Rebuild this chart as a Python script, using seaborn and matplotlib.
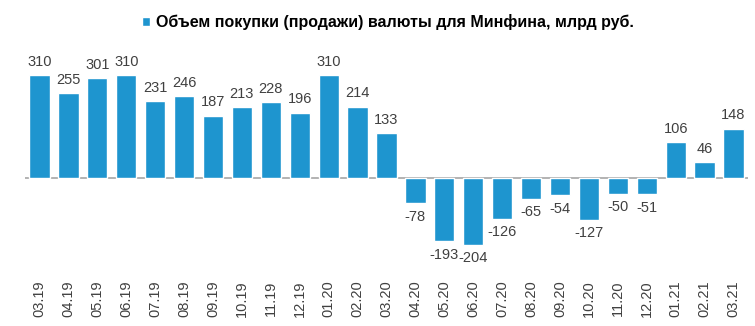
import matplotlib
matplotlib.use("Agg")
import matplotlib.pyplot as plt
import seaborn as sns
import pandas as pd

months = ["03.19", "04.19", "05.19", "06.19", "07.19", "08.19", "09.19", "10.19",
          "11.19", "12.19", "01.20", "02.20", "03.20", "04.20", "05.20", "06.20",
          "07.20", "08.20", "09.20", "10.20", "11.20", "12.20", "01.21", "02.21", "03.21"]
values = [310, 255, 301, 310, 231, 246, 187, 213, 228, 196, 310, 214, 133,
          -78, -193, -204, -126, -65, -54, -127, -50, -51, 106, 46, 148]
series_name = "Объем покупки (продажи) валюты для Минфина, млрд руб."

sns.set_theme(style="white")
plt.rcParams['font.family'] = ['Liberation Sans', 'DejaVu Sans']

df = pd.DataFrame({"month": months, "value": values})

fig = plt.figure(figsize=(7.55, 3.26), dpi=100)
ax = fig.add_axes([25/755, 1 - 276/326, 723/755, (276 - 55)/326])

bar_color = "#1E95CF"
sns.barplot(data=df, x="month", y="value", color=bar_color, width=0.7,
            saturation=1, ax=ax, label=series_name)

ax.set_xlim(-0.5, len(months) - 0.5)
# zero at y=177.5 px, scale 0.331 px/unit
ax.set_ylim(-(276 - 177.5) / 0.331, (177.5 - 55) / 0.331)
ax.axhline(0, color="#A6A6A6", lw=1.2, zorder=0.5)

for s in ax.spines.values():
    s.set_visible(False)
ax.set_yticks([])
ax.set_xlabel("")
ax.set_ylabel("")
ax.tick_params(axis="x", length=0, pad=3, labelsize=10.5, labelcolor="#404040", rotation=90)

for c in ax.containers:
    ax.bar_label(c, fmt="%d", padding=4.5, fontsize=10.5, color="#404040")

leg = ax.legend(loc="center", bbox_to_anchor=(388 / 755, (326 - 22) / 326), bbox_transform=fig.transFigure,
                frameon=False, handlelength=0.5, handleheight=0.5, handletextpad=0.4,
                prop={"weight": "bold", "size": 11.5})
for t in leg.get_texts():
    t.set_color("#000000")

fig.savefig("out.png", dpi=100)
